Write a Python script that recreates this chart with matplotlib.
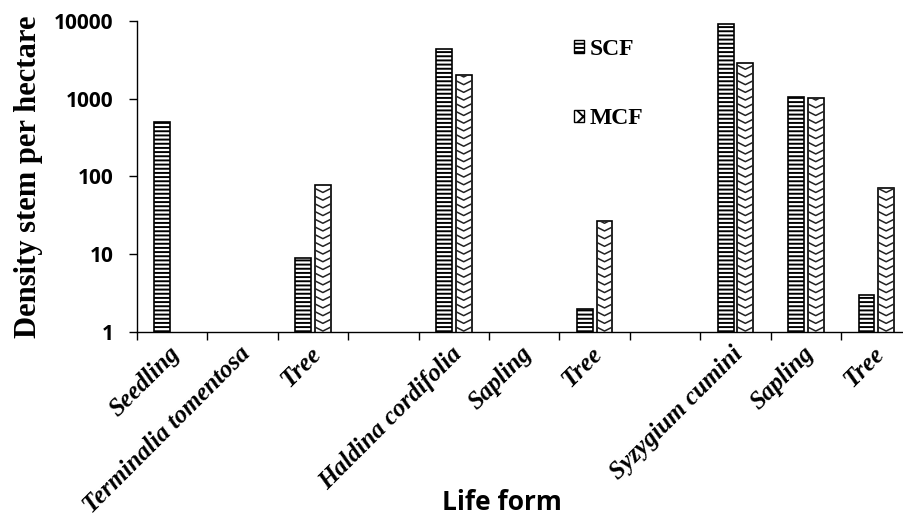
import numpy as np
import matplotlib
matplotlib.use("Agg")
import matplotlib.pyplot as plt
from matplotlib.patches import Patch
from matplotlib.transforms import blended_transform_factory, ScaledTranslation

# Stem density per hectare by life form for two forest types
categories = ["Seedling", "Terminalia tomentosa", "Tree", "",
              "Haldina cordifolia", "Sapling", "Tree", "",
              "Syzygium cumini", "Sapling", "Tree"]
scf = [500, 0, 9, 0, 4300, 0, 2, 0, 9200, 1050, 3]
mcf = [0, 0, 78, 0, 2000, 0, 27, 0, 2900, 1030, 72]
series_names = ["SCF", "MCF"]
y_ticks = [1, 10, 100, 1000, 10000]

plt.rcParams["hatch.linewidth"] = 1.4
plt.rcParams["hatch.color"] = "black"

fig = plt.figure(figsize=(9.04, 5.19), dpi=100)
ax = fig.add_axes([137 / 904, 1 - 332.3 / 519, 774.5 / 904, 311.6 / 519])

x = np.arange(len(categories))
width = 0.225
offset = 0.14

scf_arr = np.array(scf, dtype=float)
mcf_arr = np.array(mcf, dtype=float)
ks = scf_arr > 0
km = mcf_arr > 0

ax.set_yscale("log")
ax.set_ylim(1, 10000)
ax.set_xlim(-0.5, len(categories) - 0.5)

bars_s = ax.bar(x[ks] - offset, scf_arr[ks], width, facecolor="white",
                edgecolor="black", linewidth=1.2, hatch="----")
bars_m = ax.bar(x[km] + offset, mcf_arr[km], width, facecolor="white",
                edgecolor="black", linewidth=1.2)

# wavy chevron fill for the MCF bars, clipped to each bar
trans = blended_transform_factory(ax.transData, ax.transAxes)
step = 7.7 / 311.6
depth = 4.0 / 311.6
for rect in bars_m:
    x0 = rect.get_x()
    x1 = x0 + rect.get_width()
    xc = 0.5 * (x0 + x1)
    xs, ys = [], []
    for yb in np.arange(0.004, 1 + step, step):
        xs += [x0, xc, x1, np.nan]
        ys += [yb + depth, yb, yb + depth, np.nan]
    ln, = ax.plot(xs, ys, transform=trans, color="#222222", lw=1.1,
                  solid_joinstyle="round", zorder=rect.get_zorder() + 0.1)
    ln.set_clip_path(rect)

for s in ["top", "right"]:
    ax.spines[s].set_visible(False)
for s in ["left", "bottom"]:
    ax.spines[s].set_linewidth(1.0)
    ax.spines[s].set_zorder(5)

ax.set_yticks(y_ticks)
ax.set_yticklabels([str(t) for t in y_ticks], family="Open Sans",
                   fontweight="bold", fontsize=15)
ax.yaxis.set_minor_locator(matplotlib.ticker.NullLocator())
ax.tick_params(axis="y", which="major", direction="out", length=5.8,
               width=1.0, pad=11)

ax.set_xticks(x)
ax.set_xticklabels(categories, rotation=45, ha="right", va="top",
                   rotation_mode="anchor", family="Liberation Serif",
                   fontweight="bold", fontstyle="italic", fontsize=18)
ax.set_xticks(np.arange(-0.5, len(categories), 1.0), minor=True)
ax.tick_params(axis="x", which="major", length=0, pad=7)
ax.tick_params(axis="x", which="minor", direction="out", length=5.8, width=1.0)
for lab in ax.get_xticklabels():
    lab.set_transform(lab.get_transform()
                      + ScaledTranslation(-4 / 100, 0, fig.dpi_scale_trans))

ax.set_ylabel("Density stem per hectare", family="Liberation Serif",
              fontweight="bold", fontsize=22, labelpad=8)
fig.text(502 / 904, 1 - 503 / 519, "Life form", family="Open Sans",
         fontweight="bold", fontsize=19, ha="center", va="center")

handles = [Patch(facecolor="white", edgecolor="black", hatch="----", lw=1.0),
           Patch(facecolor="white", edgecolor="black", hatch="xx", lw=1.0)]
leg = fig.legend(handles, series_names, loc="upper left",
                 bbox_to_anchor=(574 / 904, 1 - 39 / 519), frameon=False,
                 prop={"family": "Liberation Serif", "weight": "bold",
                       "size": 17},
                 handlelength=0.42, handleheight=0.42, handletextpad=0.25,
                 labelspacing=2.05, borderpad=0, borderaxespad=0)

fig.savefig("out.png", dpi=100)
